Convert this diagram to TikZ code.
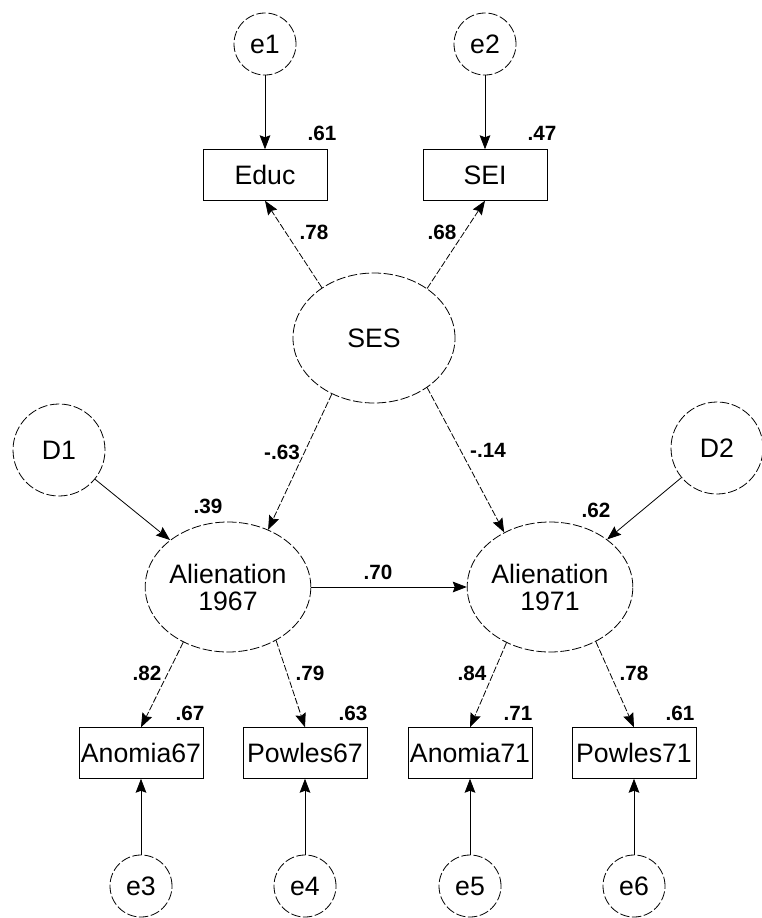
\documentclass[tikz,border=0pt]{standalone}
\usepackage{fontspec}
\setmainfont{Liberation Sans}
\usetikzlibrary{arrows.meta,positioning,shapes.geometric}
\tikzset{>={Stealth[length=10.5pt,width=8pt,inset=1.5pt]},x=0.75pt,y=-0.75pt}
\tikzset{
    err/.style={circle,draw,line width=0.6pt,dash pattern=on 7pt off 2pt,
        minimum size=46.5pt,inner sep=0pt,font=\fontsize{20}{20}\selectfont},
    dist/.style={err,minimum size=69pt},
    latent/.style={ellipse,draw,line width=0.6pt,dash pattern=on 7pt off 2pt,
        minimum width=121.5pt,minimum height=97.5pt,inner sep=0pt,align=center,
        font=\fontsize{20}{20.25}\selectfont},
    obs/.style={rectangle,draw,line width=0.6pt,minimum width=93pt,minimum height=38pt,
        inner sep=0pt,font=\fontsize{20}{20}\selectfont},
    coef/.style={inner sep=0pt,font=\bfseries\fontsize{15.5}{15.5}\selectfont},
    load/.style={->,line width=0.6pt,dash pattern=on 5pt off 1.5pt},
    fix/.style={->,line width=0.6pt}
}

\begin{document}
\begin{tikzpicture}
    \useasboundingbox (0,0) rectangle (762,918);
    % measured variables
    \node[obs] (educ) at (265,175) {Educ};
    \node[obs] (sei)  at (485,175) {SEI};
    \node[obs] (an67) at (141,753) {Anomia67};
    \node[obs] (pw67) at (305,753) {Powles67};
    \node[obs] (an71) at (470,753) {Anomia71};
    \node[obs] (pw71) at (634,753) {Powles71};
    % latent variables
    \node[latent] (ses)  at (374,338) {SES};
    \node[latent] (al67) at (228,587) {Alienation\\1967};
    \node[latent] (al71) at (550,587) {Alienation\\1971};
    % errors and disturbances
    \node[err] (e1) at (265,44) {e1};
    \node[err] (e2) at (485,44) {e2};
    \node[err] (e3) at (141,886) {e3};
    \node[err] (e4) at (305,886) {e4};
    \node[err] (e5) at (470,886) {e5};
    \node[err] (e6) at (634,886) {e6};
    \node[dist] (d1) at (59,450) {D1};
    \node[dist] (d2) at (717,448) {D2};

    \draw[fix] (e1) -- (educ);
    \draw[fix] (e2) -- (sei);
    \draw[fix] (e3) -- (an67);
    \draw[fix] (e4) -- (pw67);
    \draw[fix] (e5) -- (an71);
    \draw[fix] (e6) -- (pw71);
    \draw[load] (ses.136) -- (educ.south);
    \draw[load] (ses.43) -- (sei.south);
    \draw[load] (ses.233) -- (al67.55);
    \draw[load] (ses.317) -- (al71.130);
    \draw[fix] (d1) -- (al67);
    \draw[fix] (d2) -- (al71);
    \draw[fix] (al67) -- (al71);
    \draw[load] (al67.231) -- (an67.north);
    \draw[load] (al67.312) -- (pw67.north);
    \draw[load] (al71.232) -- (an71.north);
    \draw[load] (al71.310) -- (pw71.north);

    % estimates
    \node[coef] (r-educ) at (322,133) {.61};
    \node[coef] (r-sei)  at (542,133) {.47};
    \node[coef] (w-educ) at (314,232) {.78};
    \node[coef] (w-sei)  at (442,232) {.68};
    \node[coef] (w-al67) at (282,452) {-.63};
    \node[coef] (w-al71) at (488,450) {-.14};
    \node[coef] (r-al67) at (208,506) {.39};
    \node[coef] (r-al71) at (596,510) {.62};
    \node[coef] (w-stab) at (378,572) {.70};
    \node[coef] (w-an67) at (147,673) {.82};
    \node[coef] (w-pw67) at (310,673) {.79};
    \node[coef] (w-an71) at (472,673) {.84};
    \node[coef] (w-pw71) at (634,673) {.78};
    \node[coef] (r-an67) at (190,713) {.67};
    \node[coef] (r-pw67) at (353,713) {.63};
    \node[coef] (r-an71) at (518,713) {.71};
    \node[coef] (r-pw71) at (680,713) {.61};
\end{tikzpicture}
\end{document}
